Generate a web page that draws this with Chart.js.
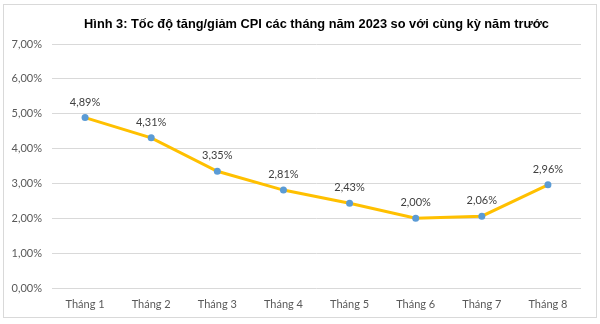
<!DOCTYPE html>
<html>
<head>
<meta charset="utf-8">
<script src="https://cdn.jsdelivr.net/npm/chart.js@4"></script>
<style>
  html, body { margin: 0; padding: 0; background: #ffffff; }
  #wrap { width: 600px; height: 324px; position: relative; }
</style>
</head>
<body>
<div id="wrap"><canvas id="c" width="600" height="324"></canvas></div>
<script>
const titleText = "Hình 3: Tốc độ tăng/giảm CPI các tháng năm 2023 so với cùng kỳ năm trước";
const categories = ["Tháng 1", "Tháng 2", "Tháng 3", "Tháng 4", "Tháng 5", "Tháng 6", "Tháng 7", "Tháng 8"];
const cpiValues = [4.89, 4.31, 3.35, 2.81, 2.43, 2.00, 2.06, 2.96];
const yMin = 0;
const yMax = 7;
const yStep = 1;

const fmt = v => v.toFixed(2).replace('.', ',') + '%';

const frame = {
  id: 'frame',
  afterLayout(chart) {
    // center the title over the plot area
    if (chart.titleBlock) {
      const a = chart.chartArea;
      const w = chart.titleBlock.right - chart.titleBlock.left;
      const c = (a.left + a.right) / 2;
      chart.titleBlock.left = c - w / 2;
      chart.titleBlock.right = c + w / 2;
    }
  },
  beforeDraw(chart) {
    const ctx = chart.ctx;
    ctx.save();
    ctx.fillStyle = '#ffffff';
    ctx.fillRect(0, 0, chart.width, chart.height);
    ctx.strokeStyle = '#d9d9d9';
    ctx.lineWidth = 1;
    ctx.strokeRect(3.5, 4.5, 593, 313);
    ctx.restore();
  }
};

const valueLabels = {
  id: 'valueLabels',
  afterDatasetsDraw(chart) {
    const ctx = chart.ctx;
    const meta = chart.getDatasetMeta(0);
    ctx.save();
    ctx.font = '11px Lato';
    ctx.fillStyle = '#404040';
    ctx.textAlign = 'center';
    ctx.textBaseline = 'middle';
    meta.data.forEach((pt, i) => {
      ctx.fillText(fmt(chart.data.datasets[0].data[i]), pt.x, pt.y - 15.5);
    });
    ctx.restore();
  }
};

new Chart(document.getElementById('c'), {
  type: 'line',
  data: {
    labels: categories,
    datasets: [{
      data: cpiValues,
      borderColor: '#FFC000',
      borderWidth: 3,
      tension: 0,
      pointRadius: 3.5,
      pointBackgroundColor: '#5B9BD5',
      pointBorderColor: '#5B9BD5',
      pointBorderWidth: 0,
      clip: false
    }]
  },
  options: {
    responsive: false,
    animation: false,
    devicePixelRatio: 1,
    layout: { padding: { left: 8, right: 19, top: 0, bottom: 0 } },
    plugins: {
      legend: { display: false },
      tooltip: { enabled: false },
      title: {
        display: true,
        text: titleText,
        color: '#000000',
        font: { family: 'Liberation Sans', size: 12.8, weight: 'bold', lineHeight: 1.2 },
        padding: { top: 16.3, bottom: 12.4 }
      }
    },
    scales: {
      x: {
        offset: true,
        grid: { display: false, offset: true },
        border: { display: false },
        ticks: { color: '#595959', font: { family: 'Lato', size: 11 }, padding: 2, maxRotation: 0 },
        afterFit: s => { s.height = 36; }
      },
      y: {
        min: yMin,
        max: yMax,
        grid: { color: '#d9d9d9', lineWidth: 1, drawTicks: false },
        border: { display: false },
        ticks: {
          stepSize: yStep,
          color: '#595959',
          font: { family: 'Lato', size: 11 },
          padding: 10,
          callback: v => fmt(v)
        },
        afterFit: s => { s.width = 44; }
      }
    }
  },
  plugins: [frame, valueLabels]
});
</script>
</body>
</html>
